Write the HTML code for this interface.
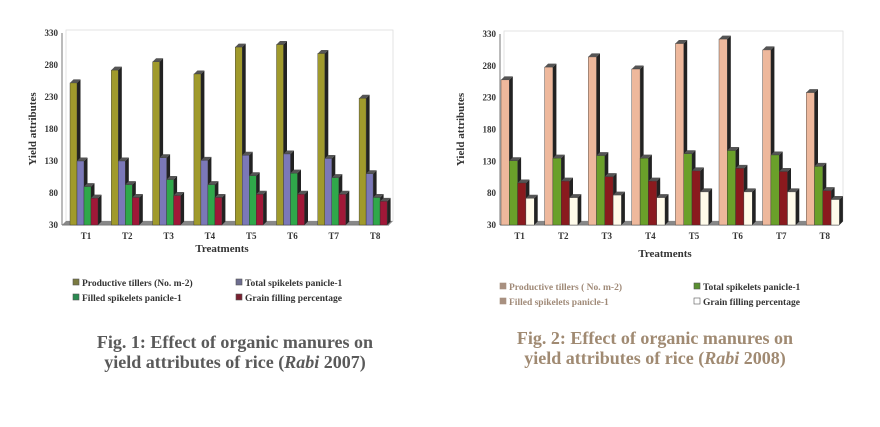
<!DOCTYPE html>
<html><head><meta charset="utf-8"><style>
body{margin:0;background:#fff;width:880px;height:422px;overflow:hidden}
svg{font-family:"Liberation Serif",serif}
</style></head><body>
<svg id="s" width="880" height="422" xmlns="http://www.w3.org/2000/svg"></svg>
<script>
const s=document.getElementById('s');let h='';
function chart(o){
 const y=v=>o.y0-(v-30)*(o.y0-o.y1)/300;
 h+=`<rect x="${o.ax+4}" y="${o.y1-3}" width="${o.right-o.ax-4}" height="${o.y0-o.y1-1}" fill="none" stroke="#ddd" stroke-width="0.8"/>`;
 h+=`<polygon points="${o.ax},${o.y0} ${o.ax+4},${o.y0-4} ${o.right},${o.y0-4} ${o.right-4},${o.y0}" fill="#888"/>`;
 h+=`<line x1="${o.ax}" y1="${o.y1}" x2="${o.ax}" y2="${o.y0}" stroke="#777"/>`;
 h+=`<line x1="${o.ax}" y1="${o.y0}" x2="${o.right-4}" y2="${o.y0}" stroke="#777"/>`;
 for(let t=30;t<=330;t+=50){h+=`<text x="${o.ax-4}" y="${y(t)+3}" font-size="9" font-weight="bold" text-anchor="end" fill="#333">${t}</text>`;}
 for(let i=0;i<8;i++){
  const gx=o.g0+i*o.sp;
  o.ser.forEach((d,k)=>{
   const x=gx+k*o.bw,yt=y(d.v[i]),dp=3.5;
   h+=`<polygon points="${x+o.bw},${yt} ${x+o.bw+dp},${yt-dp} ${x+o.bw+dp},${o.y0-dp} ${x+o.bw},${o.y0}" fill="#222"/>`;
   h+=`<polygon points="${x},${yt} ${x+dp},${yt-dp} ${x+o.bw+dp},${yt-dp} ${x+o.bw},${yt}" fill="#555"/>`;
   h+=`<rect x="${x}" y="${yt}" width="${o.bw}" height="${o.y0-yt}" fill="${d.c}" stroke="#333" stroke-width="0.4"/>`;
  });
  h+=`<text x="${gx+o.bw*2+2}" y="${o.y0+14}" font-size="9" font-weight="bold" text-anchor="middle" fill="#333">T${i+1}</text>`;
 }
 h+=`<text transform="translate(${o.yl},${(o.y0+o.y1)/2}) rotate(-90)" font-size="11" font-weight="bold" text-anchor="middle" fill="#333">Yield attributes</text>`;
 h+=`<text x="${o.xl}" y="${o.xly}" font-size="11" font-weight="bold" text-anchor="middle" fill="#333">Treatments</text>`;
}
chart({ax:62,right:393,y0:225,y1:33,g0:70,sp:41.3,bw:7,yl:36,xl:222,xly:252,ser:[
 {c:'#a09a2c',v:[252,272,285,266,308,312,298,228]},
 {c:'#7b78b8',v:[130,130,135,131,139,141,134,110]},
 {c:'#2fa84a',v:[90,93,101,93,107,111,104,73]},
 {c:'#a01838',v:[72,73,76,73,78,78,78,67]}]});
chart({ax:500,right:843,y0:225,y1:34,g0:501,sp:43.6,bw:8.3,yl:464,xl:665,xly:257,ser:[
 {c:'#eeb89c',v:[258,278,294,275,315,322,305,238]},
 {c:'#6aa02a',v:[131,135,139,135,142,147,140,122]},
 {c:'#8a1a1e',v:[96,99,106,99,115,119,114,84]},
 {c:'#fffbea',v:[72,73,77,73,82,82,82,70]}]});
function leg(x,y,c,t,col,st){h+=`<rect x="${x}" y="${y-7}" width="6" height="6" fill="${c}" stroke="${st||'#555'}" stroke-width="0.6"/><text x="${x+9}" y="${y}" font-size="9.5" font-weight="bold" fill="${col}">${t}</text>`;}
leg(73,286,'#7a7a40','Productive tillers (No. m-2)','#333');
leg(236,286,'#6e6e90','Total spikelets panicle-1','#333');
leg(73,301,'#2a8a50','Filled spikelets panicle-1','#333');
leg(236,301,'#7a2030','Grain filling percentage','#333');
leg(500,290,'#a89080','Productive tillers ( No. m-2)','#a08a78','#a89080');
leg(694,290,'#5a9030','Total spikelets panicle-1','#333');
leg(500,305,'#a89080','Filled spikelets panicle-1','#a08a78','#a89080');
leg(694,305,'#fff','Grain filling percentage','#333');
h+=`<text x="235" y="348" font-size="18" font-weight="bold" text-anchor="middle" fill="#5a5a5a">Fig. 1: Effect of organic manures on</text>`;
h+=`<text x="235" y="368" font-size="18" font-weight="bold" text-anchor="middle" fill="#5a5a5a">yield attributes of rice (<tspan font-style="italic">Rabi</tspan> 2007)</text>`;
h+=`<text x="655" y="344" font-size="18" font-weight="bold" text-anchor="middle" fill="#a08a72">Fig. 2: Effect of organic manures on</text>`;
h+=`<text x="655" y="364" font-size="18" font-weight="bold" text-anchor="middle" fill="#a08a72">yield attributes of rice (<tspan font-style="italic">Rabi</tspan> 2008)</text>`;
s.innerHTML=h;
</script>
</body></html>
